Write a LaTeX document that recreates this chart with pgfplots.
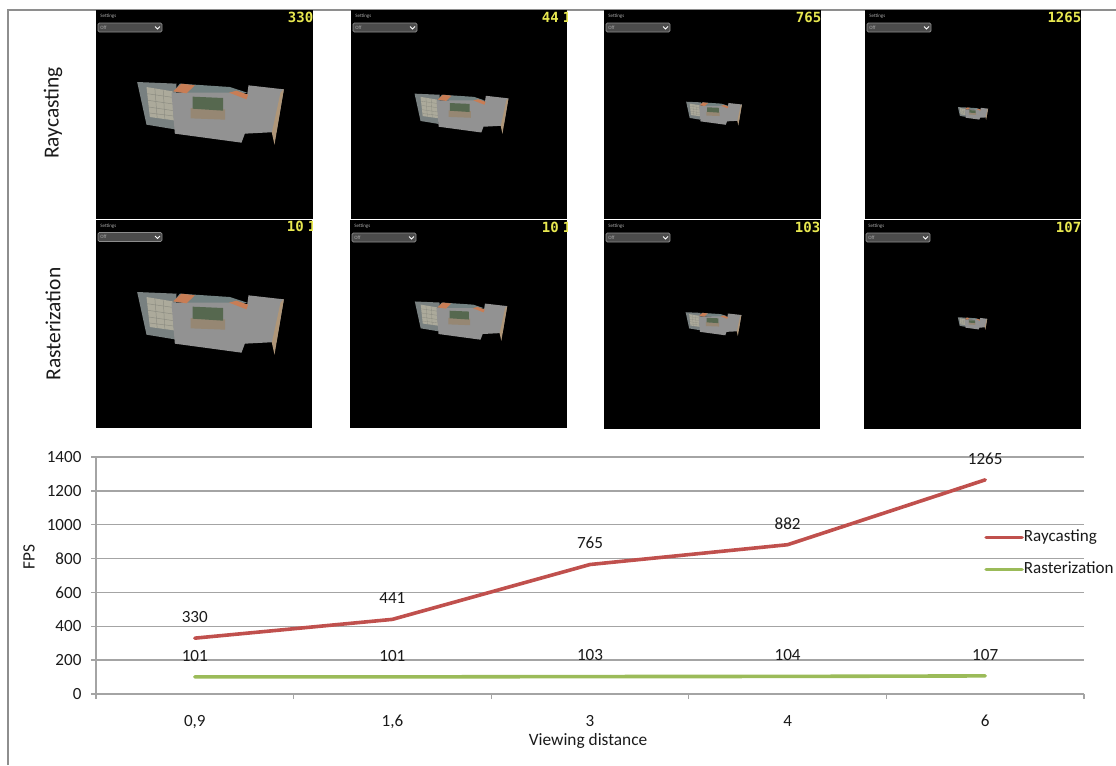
\documentclass[border=0pt]{standalone}
\usepackage{fontspec}
\usepackage{pgfplots}
\pgfplotsset{compat=1.18}
\setmainfont{Carlito}
\newfontfamily\lcdfont{DejaVu Sans Mono}
\definecolor{rcast}{HTML}{C0504D}
\definecolor{rast}{HTML}{9BBB59}
\definecolor{gridc}{HTML}{A4A4A4}
\definecolor{framec}{HTML}{8E8E8E}
\definecolor{txt}{HTML}{1A1A1A}
\definecolor{tileline}{RGB}{140,140,130}
\newcommand{\fs}[1]{\fontsize{#1pt}{#1pt}\selectfont}
\newcommand{\building}[3]{%
\begin{scope}[shift={(#1,#2)},scale=#3/3,shift={(-242,-133)}]
 \fill[fill={rgb,255:red,120;green,128;blue,128}] (22,40)--(140,45)--(135,182)--(50,168)--cycle;
 \fill[fill={rgb,255:red,172;green,170;blue,155}] (50,55)--(128,68)--(132,155)--(60,145)--cycle;
 \draw[draw=tileline,line width=#3*0.35pt] (52,75)--(128,86) (55,95)--(130,106) (57,115)--(131,126) (59,133)--(132,142) (75,58)--(82,148) (100,62)--(105,151);
 \fill[fill={rgb,255:red,115;green,130;blue,130}] (130,70)--(150,45)--(300,55)--(352,72)--(300,80)--cycle;
 \fill[fill={rgb,255:red,146;green,146;blue,146}] (125,72)--(300,72)--(352,78)--(356,50)--(462,62)--(440,190)--(345,195)--(335,222)--(135,195)--cycle;
 \fill[fill={rgb,255:red,200;green,125;blue,85}] (130,68)--(155,45)--(195,50)--(170,74)--cycle;
 \fill[fill={rgb,255:red,200;green,125;blue,85}] (298,72)--(320,66)--(355,78)--(350,92)--cycle;
 \fill[fill={rgb,255:red,150;green,135;blue,115}] (182,118)--(286,122)--(286,153)--(182,149)--cycle;
 \fill[fill={rgb,255:red,86;green,104;blue,79}] (188,84)--(280,88)--(280,126)--(188,120)--cycle;
 \fill[fill={rgb,255:red,175;green,150;blue,120}] (452,72)--(462,62)--(434,228)--(426,192)--cycle;
\end{scope}}
\newcommand{\panel}[8]{% x0 y0 x1 y1 fps cx cy s
\begin{scope}
 \clip (#1,#2) rectangle (#3,#4);
 \fill[black] (#1,#2) rectangle (#3,#4);
 \building{#6}{#7}{#8}
 \node[anchor=west,inner sep=0pt,text={rgb,255:red,170;green,170;blue,170}] at (#1+4,#2+6.5) {\fs{3.75}Settings};
 \filldraw[draw={rgb,255:red,140;green,140;blue,140},fill={rgb,255:red,75;green,75;blue,75},line width=0.6pt,rounded corners=1pt] (#1+2,#2+13) rectangle (#1+66,#2+22);
 \node[anchor=west,inner sep=0pt,text={rgb,255:red,170;green,170;blue,170}] at (#1+4,#2+17.5) {\fs{3.75}Off};
 \draw[white,line width=0.7pt] (#1+59,#2+16.5)--(#1+61.5,#2+19)--(#1+64,#2+16.5);
 \node[anchor=east,inner sep=0pt,text={rgb,255:red,232;green,232;blue,80}] at (#3+0.5,#2+7) {\lcdfont\bfseries\fs{10.5}#5};
\end{scope}}
\begin{document}
\begin{tikzpicture}[x=0.75pt,y=-0.75pt]
\useasboundingbox (0,0) rectangle (1116,765);
\draw[framec,line width=0.9pt] (8,765)--(8,10)--(1116,10);
% upper row: Raycasting
\panel{96}{10}{313}{219}{330}{210.5}{113}{1}
\panel{351}{10}{567}{219}{44\kern3pt 1\kern-3pt}{461.5}{113.5}{0.64}
\panel{604}{10}{821}{219}{765}{714}{113.5}{0.38}
\panel{865}{10}{1081}{219}{1265}{973}{113.5}{0.205}
% lower row: Rasterization
\panel{96}{219.5}{312}{428}{10\kern3pt 1\kern-3pt}{210.5}{323}{1}
\panel{350}{220}{567}{428}{10\kern3pt 1\kern-3pt}{461}{321}{0.63}
\panel{604}{220}{820}{428.5}{103}{713.5}{324}{0.38}
\panel{864}{220}{1081}{428.5}{107}{972.5}{323.5}{0.2}
\node[rotate=90,text=txt,inner sep=0pt] at (53,113) {\fs{16.1}Raycasting};
\node[rotate=90,text=txt,inner sep=0pt] at (53,324) {\fs{16.1}Rasterization};
\coordinate (A) at (96,694);
\begin{axis}[
  at={(A)},anchor=south west,
  scale only axis,width=741pt,height=177.75pt,
  xmin=-0.5,xmax=4.5,ymin=0,ymax=1400,
  axis lines=left,
  axis line style={-,draw=gridc,line width=1pt},
  tick align=outside,
  major tick length=3.75pt,
  tick style={draw=gridc,line width=1pt},
  xtick={-0.5,0.5,1.5,2.5,3.5,4.5},
  xticklabels={},
  extra x ticks={0,1,2,3,4},
  extra x tick labels={{0,9},{1,6},{3},{4},{6}},
  extra x tick style={tick style={draw=none},major tick length=0pt,grid=none},
  ytick={0,200,400,600,800,1000,1200,1400},
  ymajorgrids,
  grid style={draw=gridc,line width=1pt},
  /pgf/number format/assume math mode=true,
  /pgf/number format/1000 sep={},
  tick label style={font=\fs{12.8},text=txt},
  x tick label style={anchor=center,yshift=-21pt,text height=8.5pt,text depth=2pt},
  y tick label style={inner sep=0pt,xshift=-7pt},
  xlabel={Viewing distance},ylabel={FPS},
  label style={font=\fs{13},text=txt},
  xlabel style={at={(axis description cs:0.498,-0.198)},anchor=center,inner sep=0pt},
  ylabel style={at={(axis description cs:-0.0678,0.578)},anchor=center,inner sep=0pt},
  nodes near coords,
  every node near coord/.append style={anchor=center,yshift=16pt,font=\fs{12.8},text=txt,inner sep=0pt},
  legend cell align=left,
  legend image code/.code={\draw[#1,line cap=round] (0pt,0pt)--(27pt,0pt);},
  legend style={draw=none,fill=none,at={(0.8988,0.695)},anchor=north west,inner sep=0pt,
    font=\fs{12.8},text=txt,row sep=12pt,
    nodes={inner sep=0pt,text height=9pt,text depth=3pt}},
  clip=false,
]
\addplot[rcast,line width=2.7pt,line cap=round,line join=round] coordinates {(0,330) (1,441) (2,765) (3,882) (4,1265)};
\addlegendentry{Raycasting}
\addplot[rast,line width=2.7pt,line cap=round,line join=round] coordinates {(0,101) (1,101) (2,103) (3,104) (4,107)};
\addlegendentry{Rasterization}
\end{axis}
\end{tikzpicture}
\end{document}
